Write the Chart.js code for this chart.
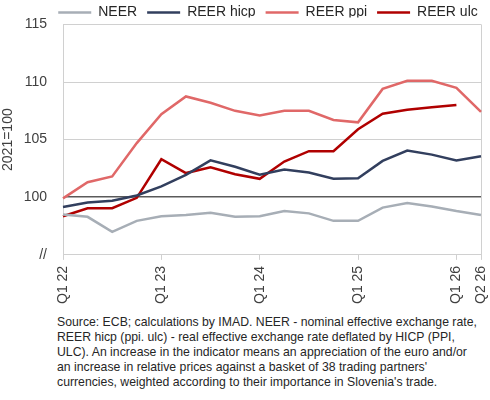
<!DOCTYPE html>
<html>
<head>
<meta charset="utf-8">
<script src="https://cdn.jsdelivr.net/npm/chart.js@4.4.1/dist/chart.umd.min.js"></script>
<style>
  body { margin: 0; background: #fff; }
  #wrap { position: relative; width: 490px; height: 400px; }
  #box { position: absolute; left: 0; top: 0; width: 490px; height: 310px; }
  #note {
    position: absolute; left: 57px; top: 315px;
    font: 12.25px "Liberation Sans", Arial, sans-serif; line-height: 15px;
    color: #262626; white-space: nowrap;
  }
</style>
</head>
<body>
<div id="wrap">
  <div id="box"><canvas id="fx-chart"></canvas></div>
  <div id="note">
    Source: ECB; calculations by IMAD. NEER - nominal effective exchange rate,<br>
    REER hicp (ppi. ulc) - real effective exchange rate deflated by HICP (PPI,<br>
    ULC). An increase in the indicator means an appreciation of the euro and/or<br>
    an increase in relative prices against a basket of 38 trading partners'<br>
    currencies, weighted according to their importance in Slovenia's trade.
  </div>
</div>
<script>
// quarterly, 2021=100
const quarters = ['Q1 22', 'Q2 22', 'Q3 22', 'Q4 22', 'Q1 23', 'Q2 23', 'Q3 23', 'Q4 23', 'Q1 24',
  'Q2 24', 'Q3 24', 'Q4 24', 'Q1 25', 'Q2 25', 'Q3 25', 'Q4 25', 'Q1 26', 'Q2 26'];
const shownTicks = ['Q1 22', 'Q1 23', 'Q1 24', 'Q1 25', 'Q1 26', 'Q2 26'];

const neer = [98.5, 98.3, 97.0, 97.95, 98.35, 98.45, 98.65, 98.3, 98.35, 98.8, 98.6, 97.95, 97.95, 99.1, 99.5, 99.2, 98.8, 98.45];
const reerHicp = [99.15, 99.55, 99.7, 100.15, 100.95, 101.95, 103.2, 102.65, 101.95, 102.4, 102.15, 101.6, 101.65, 103.15, 104.05, 103.7, 103.2, 103.55];
const reerPpi = [99.9, 101.3, 101.8, 104.7, 107.2, 108.75, 108.2, 107.5, 107.1, 107.5, 107.5, 106.7, 106.5, 109.4, 110.1, 110.1, 109.5, 107.4];
const reerUlc = [98.35, 99.05, 99.05, 99.95, 103.3, 102.1, 102.6, 102.0, 101.6, 103.1, 104.0, 104.0, 105.9, 107.25, 107.6, 107.8, 108.0, null];

const yMin = 95, yMax = 115, yStep = 5;
const yBreakLabel = '//';

const FONT = '"Liberation Sans", Arial, sans-serif';

// right edge of the plot frame
const frameRight = {
  id: 'frameRight',
  beforeDatasetsDraw(chart) {
    const { ctx, chartArea: a } = chart;
    ctx.save();
    ctx.strokeStyle = '#d0d0d0';
    ctx.lineWidth = 1;
    ctx.beginPath();
    ctx.moveTo(Math.round(a.right) + 0.5, a.top);
    ctx.lineTo(Math.round(a.right) + 0.5, a.bottom);
    ctx.stroke();
    ctx.restore();
  }
};

// legend sits centred over the plot, a bit higher than chart.js puts it
const legendNudge = {
  id: 'legendNudge',
  afterLayout(chart) {
    const lg = chart.legend;
    const dx = (chart.chartArea.left + chart.chartArea.right) / 2 - (lg.left + lg.right) / 2 - 4;
    lg.left += dx;
    lg.right += dx;
    lg.top -= 7;
    lg.bottom -= 7;
  }
};

const line = (label, data, color) => ({
  label: label,
  data: data,
  borderColor: color,
  backgroundColor: color,
  borderWidth: 2.5,
  pointRadius: 0,
  tension: 0,
  fill: false
});

new Chart(document.getElementById('fx-chart'), {
  type: 'line',
  data: {
    labels: quarters,
    datasets: [
      line('NEER', neer, '#a7aeb6'),
      line('REER hicp', reerHicp, '#323f5e'),
      line('REER ppi', reerPpi, '#e06868'),
      line('REER ulc', reerUlc, '#b00000')
    ]
  },
  options: {
    responsive: true,
    maintainAspectRatio: false,
    animation: false,
    layout: { padding: 0 },
    plugins: {
      legend: {
        position: 'top',
        maxHeight: 22,
        labels: {
          usePointStyle: true,
          pointStyle: 'line',
          pointStyleWidth: 33,
          padding: 10,
          color: '#262626',
          font: { family: FONT, size: 14 }
        }
      },
      tooltip: { enabled: false }
    },
    scales: {
      x: {
        offset: false,
        border: { color: '#d0d0d0' },
        grid: { drawOnChartArea: false, drawTicks: true, tickLength: 5, color: '#d0d0d0' },
        ticks: {
          autoSkip: false,
          maxRotation: 90,
          minRotation: 90,
          padding: 6,
          color: '#404040',
          font: { family: FONT, size: 14 },
          callback: (value, i) => shownTicks.includes(quarters[i]) ? quarters[i] : null
        },
        // rotated labels only need half a line of room at the right end
        afterFit: (scale) => { scale.paddingRight = 9; }
      },
      y: {
        min: yMin,
        max: yMax,
        border: { color: '#d0d0d0' },
        grid: {
          drawTicks: false,
          color: (c) => c.tick && c.tick.value === 100 ? '#5a5a5a' : '#d0d0d0',
          lineWidth: (c) => c.tick && c.tick.value === 100 ? 1.5 : 1
        },
        ticks: {
          stepSize: yStep,
          padding: 16,
          color: '#404040',
          font: { family: FONT, size: 14 },
          callback: (value) => value === yMin ? yBreakLabel : value
        },
        title: {
          display: true,
          text: '2021=100',
          color: '#404040',
          padding: 0,
          font: { family: FONT, size: 14 }
        },
        afterFit: (scale) => { scale.width = 63; }
      }
    }
  },
  plugins: [frameRight, legendNudge]
});
</script>
</body>
</html>
